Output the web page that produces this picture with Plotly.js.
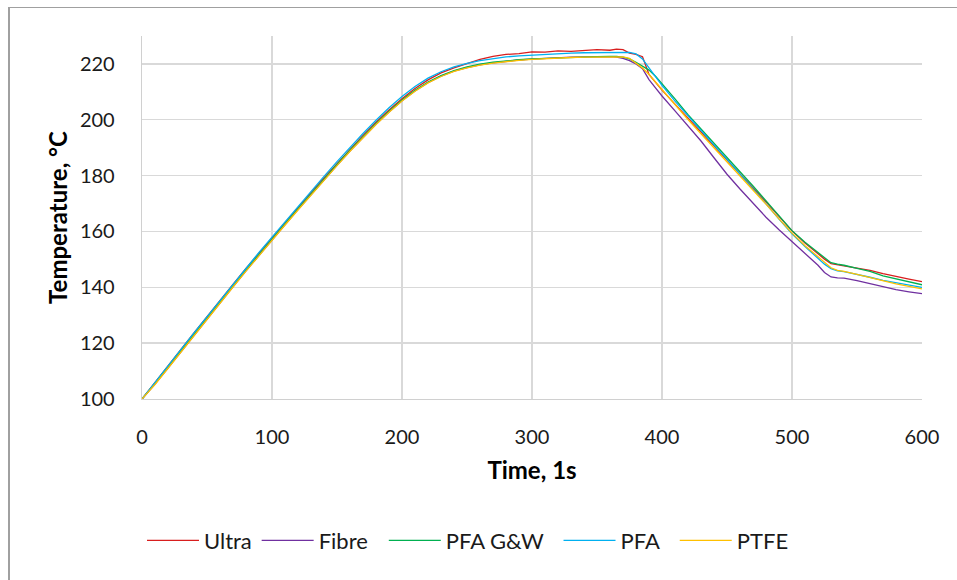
<!DOCTYPE html>
<html>
<head>
<meta charset="utf-8">
<script src="https://cdn.plot.ly/plotly-3.0.1.min.js"></script>
<style>
  html, body { margin: 0; padding: 0; background: #fff; }
  #wrap { position: relative; width: 957px; height: 580px; overflow: hidden; }
  #chart { position: absolute; left: 0; top: 0; width: 957px; height: 580px; }
  #frame { position: absolute; left: 8px; top: 7px; width: 1200px; height: 800px;
           border-top: 1px solid #a0a0a0; border-left: 2px solid #a0a0a0; pointer-events: none; }
</style>
</head>
<body>
<div id="wrap">
  <div id="chart"></div>
  <div id="frame"></div>
</div>
<script>
// Time (s)
const time = [0,10,20,30,40,50,60,70,80,90,100,110,120,130,140,150,160,170,180,190,200,210,220,230,240,250,260,270,280,290,300,310,320,330,340,350,360,
  365,370,375,380,385,390,395,400,
  410,420,430,440,450,460,470,480,490,500,510,520,
  525,530,535,
  540,550,560,570,580,590,600];

// Temperature (°C) per series
const ultra = [100,105.8,111.9,117.8,123.7,129.6,135.3,141.0,146.8,152.3,157.8,163.2,168.5,173.9,179.2,184.4,189.5,194.4,199.1,203.5,207.5,211.2,214.3,216.8,218.6,220.1,221.6,222.7,223.4,223.7,224.3,224.2,224.7,224.5,224.9,225.1,224.9,
  225.3,225.1,223.9,223.4,222.6,216.2,213.2,210.6,
  205.6,200.6,195.7,190.8,185.8,180.8,175.8,170.6,165.4,160.2,155.9,152.0,
  150.1,148.5,148.0,
  147.7,146.9,146.1,144.9,143.8,142.9,142.0];

const fibre = [100,105.3,111.1,117.0,122.9,128.7,134.5,140.2,145.9,151.5,157.0,162.4,167.8,173.2,178.5,183.7,188.8,193.7,198.4,202.8,206.8,210.3,213.3,215.6,217.4,218.7,219.7,220.4,221.0,221.4,221.7,222.0,222.2,222.4,222.5,222.6,222.6,
  222.4,222.0,221.2,220.0,218.3,214.4,211.4,208.5,
  203.2,197.9,192.4,186.4,180.5,175.2,170.1,165.1,160.6,156.3,152.2,147.9,
  145.3,143.7,143.4,
  143.3,142.4,141.3,140.1,139.2,138.4,137.7];

const pfaGW = [100,105.5,111.4,117.3,123.2,129.0,134.8,140.5,146.2,151.8,157.3,162.7,168.1,173.5,178.8,184.0,189.1,194.0,198.7,203.1,207.1,210.6,213.5,215.8,217.6,218.9,219.9,220.6,221.1,221.5,221.8,222.0,222.2,222.4,222.5,222.6,222.7,
  222.7,222.4,221.8,220.6,219.2,217.8,215.6,213.0,
  207.5,201.8,196.6,191.5,186.5,181.4,176.3,171.1,165.7,160.3,156.1,152.3,
  150.5,148.8,148.3,
  147.9,146.8,145.7,144.1,143.0,141.9,140.9];

const pfa = [100,105.8,111.8,117.8,123.7,129.5,135.4,141.1,146.9,152.5,158.0,163.5,168.9,174.3,179.7,185.0,190.1,195.1,199.8,204.3,208.3,211.9,214.9,217.2,218.9,220.2,221.2,221.9,222.5,222.9,223.2,223.5,223.7,223.9,224.0,224.1,224.2,
  224.2,224.2,224.1,223.6,221.8,218.6,215.4,212.3,
  206.7,201.3,196.1,190.9,185.8,180.6,175.3,169.9,164.4,159.2,154.6,150.3,
  148.3,146.7,145.9,
  145.6,144.7,143.6,142.5,141.6,140.8,140.0];

const ptfe = [100,105.2,111.0,116.9,122.8,128.6,134.4,140.1,145.8,151.4,156.9,162.3,167.7,173.1,178.4,183.6,188.7,193.6,198.3,202.7,206.7,210.2,213.2,215.5,217.3,218.6,219.6,220.3,220.9,221.3,221.6,221.9,222.1,222.3,222.4,222.5,222.6,
  222.6,222.5,222.0,220.4,218.5,216.2,213.5,210.8,
  205.3,200.1,195.0,190.0,185.0,180.0,175.0,169.8,164.5,159.4,154.9,150.8,
  148.7,147.0,146.1,
  145.7,144.6,143.4,142.3,141.2,140.3,139.4];

const seriesNames = ['Ultra', 'Fibre', 'PFA G&W', 'PFA', 'PTFE'];
const seriesData = [ultra, fibre, pfaGW, pfa, ptfe];
const seriesColors = ['#d81e1e', '#7030a0', '#00b050', '#00b0f0', '#ffc000'];

const xTickVals = [0,100,200,300,400,500,600];
const yTickVals = [100,120,140,160,180,200,220];

const FONT = "Lato, 'Open Sans', 'Noto Sans', sans-serif";

// legend entries, each in its own legend box (paper x of box's left edge)
const legendIds = ['legend', 'legend2', 'legend3', 'legend4', 'legend5'];
const legendX = [0.0, 0.147, 0.31, 0.534, 0.683];

const traces = seriesNames.map((name, i) => ({
  type: 'scatter',
  mode: 'lines',
  name: name,
  x: time,
  y: seriesData[i],
  line: { color: seriesColors[i], width: 1.3 },
  legend: legendIds[i],
  hoverinfo: 'skip'
}));

const layout = {
  width: 957,
  height: 580,
  margin: { l: 142, r: 35, t: 36, b: 181, pad: 0 },
  paper_bgcolor: '#ffffff',
  plot_bgcolor: '#ffffff',
  font: { family: FONT, size: 20, color: '#1a1a1a' },
  showlegend: true,
  xaxis: {
    range: [0, 600],
    tickvals: xTickVals,
    ticktext: xTickVals.map(String),
    showgrid: true,
    gridcolor: '#d9d9d9',
    gridwidth: 1.3,
    zeroline: false,
    showline: true,
    linecolor: '#d0d0d0',
    linewidth: 1.3,
    ticks: 'outside',
    ticklen: 20,
    tickcolor: 'rgba(0,0,0,0)',
    tickfont: { family: FONT, size: 20, color: '#1a1a1a' },
    automargin: false,
    title: { text: 'Time, 1s', font: { family: FONT, size: 24, color: '#000', weight: 'bold' }, standoff: 15 }
  },
  yaxis: {
    range: [100, 230],
    tickvals: yTickVals,
    ticktext: yTickVals.map(String),
    showgrid: true,
    gridcolor: '#d9d9d9',
    gridwidth: 1.3,
    zeroline: false,
    showline: true,
    linecolor: '#d0d0d0',
    linewidth: 1.3,
    ticks: 'outside',
    ticklen: 22,
    tickcolor: 'rgba(0,0,0,0)',
    tickfont: { family: FONT, size: 20, color: '#1a1a1a' },
    automargin: false,
    title: { text: 'Temperature, °C', font: { family: FONT, size: 24, color: '#000', weight: 'bold' }, standoff: 5 }
  }
};

legendIds.forEach((id, i) => {
  layout[id] = {
    orientation: 'h',
    x: legendX[i], xanchor: 'left',
    y: -0.39, yanchor: 'middle',
    font: { family: FONT, size: 22, color: '#1a1a1a' },
    itemwidth: 52,
    bgcolor: 'rgba(0,0,0,0)'
  };
});

Plotly.newPlot('chart', traces, layout, { displayModeBar: false, staticPlot: true });
</script>
</body>
</html>
